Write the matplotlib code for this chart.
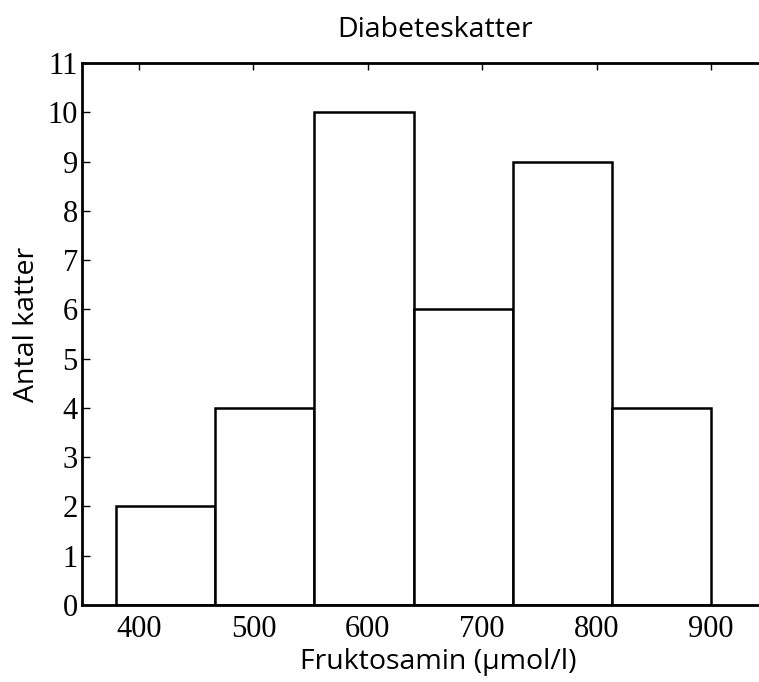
import matplotlib
matplotlib.use("Agg")
import matplotlib.pyplot as plt
import numpy as np

# histogram data
bin_edges = [380, 466.7, 553.3, 640, 726.7, 813.3, 900]
counts = [2, 4, 10, 6, 9, 4]
x_ticks = [400, 500, 600, 700, 800, 900]
y_ticks = list(range(0, 12))

title = "Diabeteskatter"
xlabel = "Fruktosamin (\u00b5mol/l)"
ylabel = "Antal katter"

W, H = 759, 682
fig = plt.figure(figsize=(W / 100, H / 100), dpi=100)

left, right = 82, 768
top, bottom = 63, 605
ax = fig.add_axes([left / W, 1 - bottom / H, (right - left) / W, (bottom - top) / H])

lefts = np.array(bin_edges[:-1])
widths = np.diff(bin_edges)
ax.bar(lefts, counts, width=widths, align="edge", facecolor="white",
       edgecolor="black", linewidth=1.8, zorder=2)

ax.set_xlim(350, 950)
ax.set_ylim(0, 11)
ax.set_xticks(x_ticks)
ax.set_yticks(y_ticks)

for side in ["left", "bottom", "top"]:
    ax.spines[side].set_linewidth(2.0)
    ax.spines[side].set_zorder(3)
ax.spines["right"].set_visible(False)

serif = ["Liberation Serif", "DejaVu Serif"]
ax.tick_params(axis="x", which="both", direction="in", bottom=False, top=True,
               length=5, width=1.0, pad=7, labelsize=22)
ax.tick_params(axis="y", which="both", direction="in", left=True, right=False,
               length=6, width=1.0, pad=3, labelsize=22)
for lab in ax.get_xticklabels() + ax.get_yticklabels():
    lab.set_fontfamily(serif)

sans = ["Open Sans", "DejaVu Sans"]
fig.text(435 / W, 1 - 30 / H, title, ha="center", va="center",
         fontsize=20.5, family=sans)
fig.text(438 / W, 1 - 662 / H, xlabel, ha="center", va="center",
         fontsize=20.5, family=sans)
fig.text(27 / W, 1 - 324 / H, ylabel, ha="center", va="center",
         rotation=90, fontsize=20.5, family=sans)

fig.savefig("out.png", dpi=100)
